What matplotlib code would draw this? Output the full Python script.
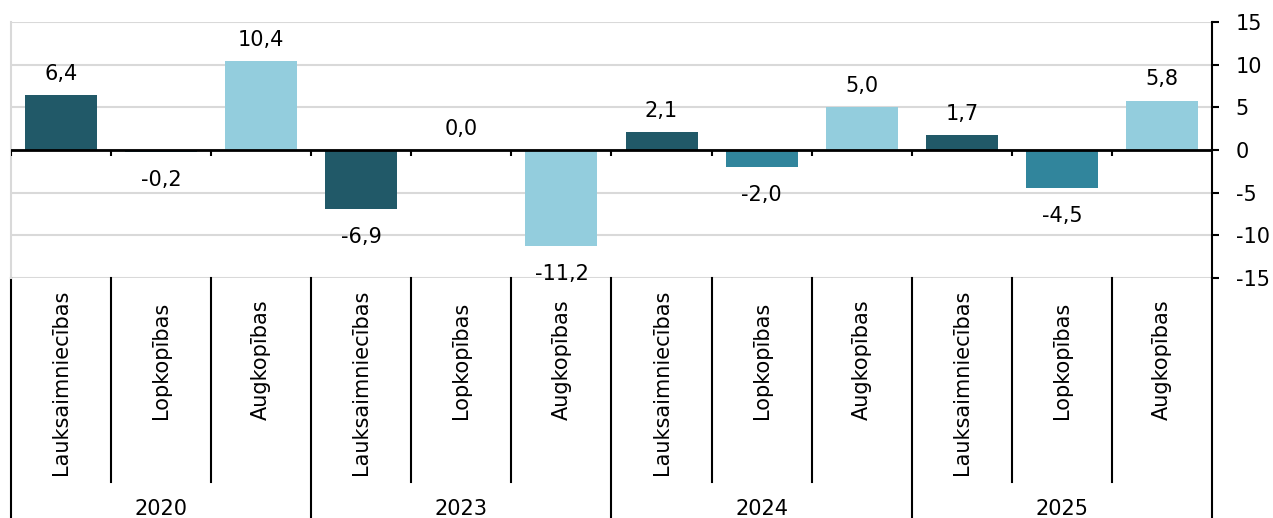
import matplotlib.pyplot as plt
from matplotlib.transforms import blended_transform_factory

plt.rcParams['axes.unicode_minus'] = False

# donnees
years = ['2020', '2023', '2024', '2025']
sectors = ['Lauksaimniecības', 'Lopkopības', 'Augkopības']
values = [6.4, -0.2, 10.4,
          -6.9, 0.0, -11.2,
          2.1, -2.0, 5.0,
          1.7, -4.5, 5.8]
colors_sector = ['#215968', '#31859C', '#93CDDD']

FS = 15
W, H = 1273, 518
fig = plt.figure(figsize=(W / 100, H / 100), dpi=100)
ax = fig.add_axes([11 / W, 1 - 278 / H, (1212 - 11) / W, (278 - 22) / H])

n = len(values)
xs = list(range(n))
bar_colors = [colors_sector[i % 3] for i in xs]
ax.bar(xs, values, width=0.72, color=bar_colors, zorder=2)

ax.set_xlim(-0.5, n - 0.5)
ax.set_ylim(-15, 15)
ax.set_yticks(range(-15, 16, 5))
ax.yaxis.tick_right()
ax.tick_params(axis='y', length=5, width=1.5, pad=12, labelsize=FS, color='black')
ax.set_xticks([])
ax.grid(axis='y', color='#d9d9d9', linewidth=1.5, zorder=0)
ax.set_axisbelow(True)

for s in ['top', 'bottom']:
    ax.spines[s].set_visible(False)
ax.spines['left'].set_color('#d9d9d9')
ax.spines['left'].set_linewidth(1.5)
ax.spines['right'].set_color('black')
ax.spines['right'].set_linewidth(1.5)

# ligne du zero et petites graduations
ax.axhline(0, color='black', linewidth=2, zorder=3)
ax.vlines([i - 0.5 for i in range(n)], -0.75, 0, color='black', linewidth=1.5, zorder=3)

# etiquettes de valeurs
for x, v in zip(xs, values):
    txt = f'{v:.1f}'.replace('.', ',')
    if v >= 0:
        ax.annotate(txt, (x, v), xytext=(0, 11), textcoords='offset points',
                    ha='center', va='baseline', fontsize=FS)
    else:
        ax.annotate(txt, (x, v), xytext=(0, -13), textcoords='offset points',
                    ha='center', va='top', fontsize=FS)

# axe de categories multi-niveaux
tr = blended_transform_factory(ax.transData, fig.transFigure)
def fy(py):
    return 1 - py / H

for i in range(n + 1):
    x = i - 0.5
    if i % 3 == 0:
        ax.plot([x, x], [fy(278), fy(518)], color='black', linewidth=1.5,
                transform=tr, clip_on=False)
    else:
        ax.plot([x, x], [fy(278), fy(482)], color='black', linewidth=1.5,
                transform=tr, clip_on=False)

for i in range(n):
    name = sectors[i % 3]
    if len(name) > 12:
        ax.text(i, fy(290), name, rotation=90, ha='center', va='top',
                fontsize=FS, transform=tr)
    else:
        ax.text(i, fy(360), name, rotation=90, ha='center', va='center',
                fontsize=FS, transform=tr)

for g, y in enumerate(years):
    ax.text(3 * g + 1, fy(509), y, ha='center', va='center', fontsize=FS, transform=tr)

fig.savefig('out.png', dpi=100)
